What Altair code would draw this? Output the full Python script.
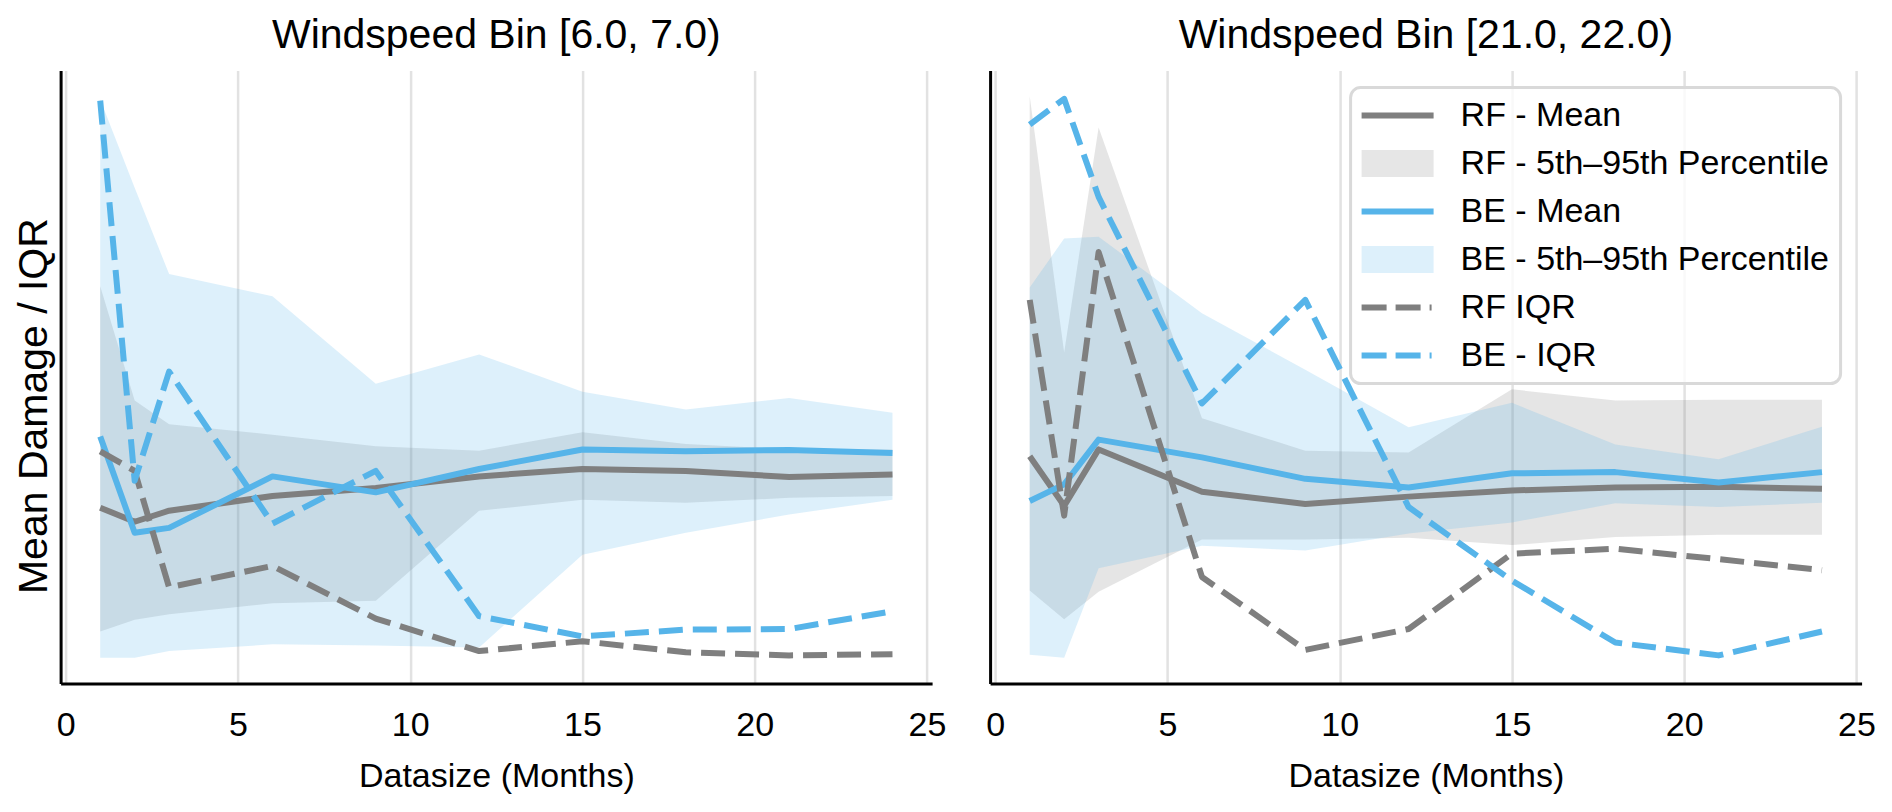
import altair as alt
import pandas as pd

months = [1, 2, 3, 6, 9, 12, 15, 18, 21, 24]
panel_titles = ["Windspeed Bin [6.0, 7.0)", "Windspeed Bin [21.0, 22.0)"]
legend_labels = ["RF - Mean", "RF - 5th\u201395th Percentile", "BE - Mean",
                 "BE - 5th\u201395th Percentile", "RF IQR", "BE - IQR"]

# y values are in plot-height units (the chart shows no y scale)
l_rf_mean = [0.287, 0.264, 0.282, 0.306, 0.319, 0.338, 0.350, 0.347, 0.337, 0.341]
l_be_mean = [0.403, 0.246, 0.254, 0.338, 0.312, 0.350, 0.382, 0.379, 0.381, 0.376]
l_rf_iqr = [0.379, 0.347, 0.157, 0.192, 0.106, 0.053, 0.069, 0.051, 0.046, 0.048]
l_be_iqr = [0.951, 0.331, 0.509, 0.261, 0.347, 0.110, 0.077, 0.088, 0.089, 0.118]
l_rf_lo = [0.085, 0.104, 0.113, 0.131, 0.135, 0.282, 0.300, 0.295, 0.303, 0.306]
l_rf_hi = [0.648, 0.462, 0.423, 0.406, 0.387, 0.380, 0.410, 0.391, 0.382, 0.382]
l_be_lo = [0.042, 0.042, 0.053, 0.064, 0.062, 0.059, 0.210, 0.246, 0.276, 0.300]
l_be_hi = [0.953, 0.809, 0.668, 0.632, 0.489, 0.537, 0.476, 0.447, 0.466, 0.442]

r_rf_mean = [0.371, 0.290, 0.382, 0.313, 0.293, 0.305, 0.315, 0.320, 0.321, 0.318]
r_be_mean = [0.298, 0.325, 0.398, 0.369, 0.334, 0.320, 0.343, 0.345, 0.328, 0.345]
r_rf_iqr = [0.626, 0.274, 0.704, 0.174, 0.055, 0.089, 0.212, 0.220, 0.203, 0.185]
r_be_iqr = [0.912, 0.954, 0.794, 0.457, 0.626, 0.288, 0.168, 0.067, 0.046, 0.085]
r_rf_lo = [0.152, 0.105, 0.150, 0.235, 0.235, 0.238, 0.226, 0.239, 0.243, 0.243]
r_rf_hi = [0.958, 0.540, 0.907, 0.433, 0.380, 0.377, 0.480, 0.462, 0.463, 0.463]
r_be_lo = [0.047, 0.042, 0.188, 0.225, 0.217, 0.245, 0.263, 0.294, 0.288, 0.295]
r_be_hi = [0.646, 0.726, 0.729, 0.604, 0.512, 0.418, 0.458, 0.390, 0.366, 0.419]

GRAY = "#7f7f7f"
BLUE = "#56b4e9"
FONT = "Liberation Sans"

legend_colors = [GRAY, "#e6e6e6", BLUE, "#ddf0fb", GRAY, BLUE]
# legend symbol paths (unit = sqrt(symbol size) / 2)
LINE = "M-2.118,-0.176L2.118,-0.176L2.118,0.176L-2.118,0.176Z"
RECT = "M-2.118,-0.794L2.118,-0.794L2.118,0.794L-2.118,0.794Z"
DASH = ("M-2.118,-0.176L-0.647,-0.176L-0.647,0.176L-2.118,0.176Z "
        "M-0.118,-0.176L1.353,-0.176L1.353,0.176L-0.118,0.176Z "
        "M1.882,-0.176L2.0,-0.176L2.0,0.176L1.882,0.176Z")
legend_shapes = [LINE, RECT, LINE, RECT, DASH, DASH]


def line_rows(panel, rf_mean, be_mean, rf_iqr, be_iqr):
    rows = []
    for name, vals in [(legend_labels[0], rf_mean), (legend_labels[2], be_mean),
                       (legend_labels[4], rf_iqr), (legend_labels[5], be_iqr)]:
        for m, v in zip(months, vals):
            rows.append({"panel": panel, "month": m, "series": name, "value": v})
    return rows


def band_rows(panel, rf_lo, rf_hi, be_lo, be_hi):
    rows = []
    for name, lo, hi in [("RF", rf_lo, rf_hi), ("BE", be_lo, be_hi)]:
        for m, a, b in zip(months, lo, hi):
            rows.append({"panel": panel, "month": m, "band": name, "lo": a, "hi": b})
    return rows


lines = pd.DataFrame(line_rows(0, l_rf_mean, l_be_mean, l_rf_iqr, l_be_iqr)
                     + line_rows(1, r_rf_mean, r_be_mean, r_rf_iqr, r_be_iqr))
bands = pd.DataFrame(band_rows(0, l_rf_lo, l_rf_hi, l_be_lo, l_be_hi)
                     + band_rows(1, r_rf_lo, r_rf_hi, r_be_lo, r_be_hi))

xaxis = alt.Axis(values=[0, 5, 10, 15, 20, 25], title="Datasize (Months)", format="d",
                 grid=True, gridColor="#e2e2e2", gridWidth=2.5,
                 ticks=False, tickSize=0, labelFlush=False,
                 labelFontSize=34, labelFont=FONT, labelColor="black",
                 labelBaseline="middle", labelPadding=42,
                 titleFontSize=34, titleFont=FONT, titleFontWeight="normal",
                 titleColor="black", titleBaseline="alphabetic", titleY=102.6,
                 domainColor="black", domainWidth=3)


def make_panel(idx):
    ldf = lines[lines.panel == idx]
    bdf = bands[bands.panel == idx]
    if idx == 0:
        yaxis = alt.Axis(title="Mean Damage / IQR", labels=False, ticks=False, grid=False,
                         domainColor="black", domainWidth=3,
                         titleFontSize=41, titleFont=FONT, titleFontWeight="normal",
                         titleColor="black", titleAngle=270, titleBaseline="alphabetic",
                         titleAlign="center", titleX=-14, titleY=335)
    else:
        yaxis = alt.Axis(title=None, labels=False, ticks=False, grid=False,
                         domainColor="black", domainWidth=3)
    xs = alt.Scale(domain=[-0.15, 25.15], nice=False, zero=False)
    ys = alt.Scale(domain=[0, 1], nice=False, zero=False)
    x = alt.X("month:Q", scale=xs, axis=xaxis)
    layers = []
    for band, col in [("RF", GRAY), ("BE", BLUE)]:
        layers.append(
            alt.Chart(bdf[bdf.band == band]).mark_area(color=col, opacity=0.2).encode(
                x=x, y=alt.Y("lo:Q", scale=ys, axis=yaxis), y2="hi:Q"))
    specs = [(legend_labels[0], GRAY, False), (legend_labels[2], BLUE, False),
             (legend_labels[4], GRAY, True), (legend_labels[5], BLUE, True)]
    for s, col, dashed in specs:
        kw = dict(color=col, strokeWidth=6, strokeJoin="round")
        if dashed:
            kw["strokeDash"] = [24, 10]
        layers.append(
            alt.Chart(ldf[ldf.series == s]).mark_line(**kw).encode(
                x=x, y=alt.Y("value:Q", scale=ys, axis=yaxis)))
    if idx == 1:
        leg = alt.Legend(orient="none", legendX=360.5, legendY=17, title=None,
                         labelFontSize=34, labelFont=FONT, labelColor="black",
                         labelLimit=0, labelOffset=46, labelBaseline="middle",
                         symbolSize=1156, symbolOffset=19, symbolStrokeWidth=0,
                         symbolOpacity=1, rowPadding=14, padding=11,
                         fillColor="rgba(255,255,255,0.8)", strokeColor="#d9d9d9",
                         cornerRadius=10)
        layers.append(
            alt.Chart(ldf).mark_point(filled=True, opacity=0, size=1156).encode(
                x=x, y=alt.Y("value:Q", scale=ys, axis=yaxis),
                color=alt.Color("series:N", scale=alt.Scale(domain=legend_labels, range=legend_colors), legend=leg),
                shape=alt.Shape("series:N", scale=alt.Scale(domain=legend_labels, range=legend_shapes), legend=leg)))
    return alt.layer(*layers).properties(
        width=871.5, height=613,
        title=alt.TitleParams(text=panel_titles[idx], fontSize=41, font=FONT,
                              fontWeight="normal", color="black", anchor="middle",
                              frame="group", baseline="alphabetic", offset=-18))


chart = alt.hconcat(make_panel(0), make_panel(1), spacing=57.5, bounds="flush").resolve_legend(
    color="independent", shape="independent"
).properties(
    padding={"left": 4.6, "top": 6.6, "right": 5, "bottom": 2}
).configure(font=FONT).configure_view(strokeWidth=0).configure_legend(strokeWidth=3)

chart.save("out.html", embed_options={"renderer": "svg", "actions": False})
